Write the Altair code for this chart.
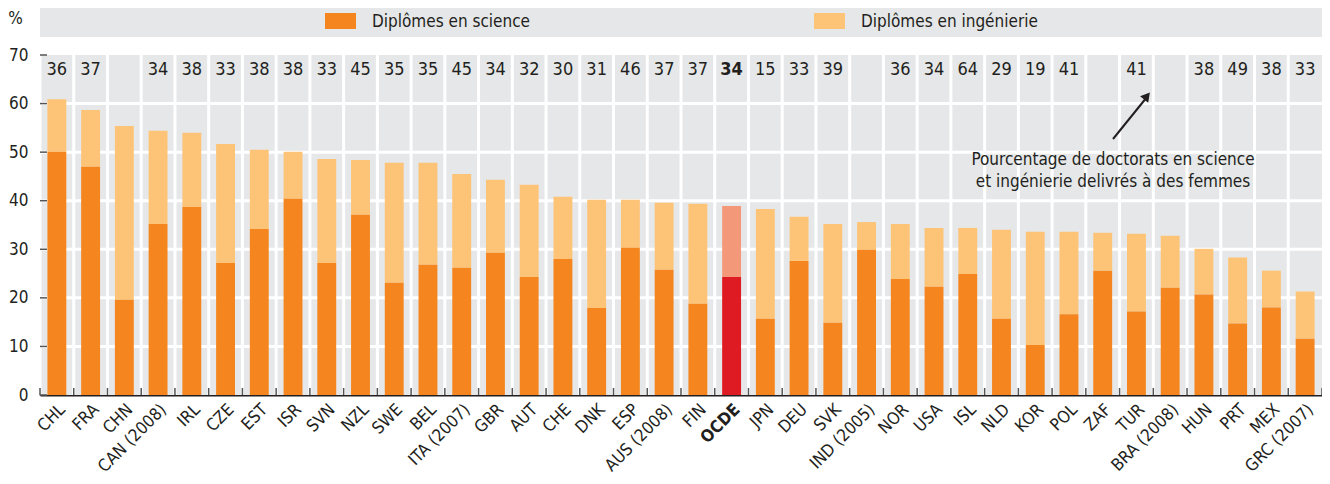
import altair as alt
import numpy as np
import pandas as pd

# ---------------- data ----------------
categories = ["CHL", "FRA", "CHN", "CAN (2008)", "IRL", "CZE", "EST", "ISR", "SVN", "NZL",
              "SWE", "BEL", "ITA (2007)", "GBR", "AUT", "CHE", "DNK", "ESP", "AUS (2008)", "FIN",
              "OCDE", "JPN", "DEU", "SVK", "IND (2005)", "NOR", "USA", "ISL", "NLD", "KOR",
              "POL", "ZAF", "TUR", "BRA (2008)", "HUN", "PRT", "MEX", "GRC (2007)"]

science = [50.1, 47.0, 19.6, 35.2, 38.7, 27.2, 34.2, 40.4, 27.2, 37.1,
           23.1, 26.8, 26.2, 29.3, 24.3, 28.0, 17.9, 30.3, 25.8, 18.8,
           24.3, 15.7, 27.6, 14.9, 29.9, 23.9, 22.3, 24.9, 15.7, 10.3,
           16.6, 25.6, 17.2, 22.1, 20.7, 14.7, 18.0, 11.6]

total = [60.9, 58.7, 55.4, 54.4, 54.0, 51.7, 50.5, 50.1, 48.6, 48.4,
         47.8, 47.8, 45.5, 44.3, 43.3, 40.8, 40.2, 40.2, 39.6, 39.4,
         38.9, 38.3, 36.7, 35.2, 35.6, 35.2, 34.4, 34.4, 34.0, 33.6,
         33.6, 33.4, 33.2, 32.8, 30.1, 28.3, 25.6, 21.3]

women_phd = [36, 37, None, 34, 38, 33, 38, 38, 33, 45,
             35, 35, 45, 34, 32, 30, 31, 46, 37, 37,
             34, 15, 33, 39, None, 36, 34, 64, 29, 19,
             41, None, 41, None, 38, 49, 38, 33]

legend_labels = ["Diplômes en science", "Diplômes en ingénierie"]
y_ticks = [0, 10, 20, 30, 40, 50, 60, 70]
y_grid = [10, 20, 30, 40, 50, 60]
annotation_lines = ["Pourcentage de doctorats en science", "et ingénierie delivrés à des femmes"]

# ---------------- styling ----------------
FONT = "Liberation Sans Narrow, Arial Narrow, DejaVu Sans Condensed, sans-serif"
TXT = "#231f20"
BG = "#e6e7e8"
C_SCI = "#f5861f"
C_ENG = "#fdc477"
C_SCI_O = "#de1b22"
C_ENG_O = "#f4987a"
W, H = 1282, 340
Y_MAX = 70
N = len(categories)
step = W / N

df = pd.DataFrame({"cat": categories, "science": science, "total": total})
df["women_txt"] = ["" if v is None else str(v) for v in women_phd]
oecd = df["cat"] == "OCDE"
df["sci_grp"] = np.where(oecd, "sci_o", "sci")
df["eng_grp"] = np.where(oecd, "eng_o", "eng")

cscale = alt.Scale(domain=["sci", "eng", "sci_o", "eng_o"],
                   range=[C_SCI, C_ENG, C_SCI_O, C_ENG_O])

x_enc = alt.X(
    "cat:N", sort=categories,
    scale=alt.Scale(paddingInner=0.44, paddingOuter=0.22),
    axis=alt.Axis(title=None, labelAngle=-45, labelFontSize=17, labelColor=TXT,
                  labelFont=FONT, labelPadding=6,
                  labelFontWeight=alt.expr("datum.value == 'OCDE' ? 'bold' : 'normal'"),
                  ticks=False, domainColor=TXT, domainWidth=2, grid=False),
)
y_scale = alt.Scale(domain=[0, Y_MAX], nice=False)
y_axis = alt.Axis(title="%", titleAngle=0, titleX=-25, titleY=-28, titleFontSize=17,
                  titleFontWeight="normal", titleFont=FONT, titleColor=TXT,
                  values=y_ticks, labelFontSize=17, labelFont=FONT, labelColor=TXT,
                  labelPadding=12, ticks=False, domainColor=TXT, domainWidth=2,
                  grid=False)

base = alt.Chart(df)
one = pd.DataFrame({"t": [0]})

# plot background
plot_bg = alt.Chart(one).mark_rect(color=BG).encode(
    x=alt.value(0), x2=alt.value(W), y=alt.value(0), y2=alt.value(H))

# white grid lines (drawn as marks, under the bars)
grid_v = base.mark_rule(stroke="#ffffff", strokeWidth=3, opacity=1,
                        xOffset=-step / 2).encode(
    x=x_enc, y=alt.value(0), y2=alt.value(H))
grid_h_layers = [
    alt.Chart(one).mark_rule(stroke="#ffffff", strokeWidth=3, opacity=1).encode(
        x=alt.value(0), x2=alt.value(W),
        y=alt.value(H - g * H / Y_MAX), y2=alt.value(H - g * H / Y_MAX))
    for g in y_grid
]

eng_bars = base.mark_bar().encode(
    x=x_enc,
    y=alt.Y("science:Q", scale=y_scale, axis=y_axis),
    y2="total:Q",
    color=alt.Color("eng_grp:N", scale=cscale, legend=None),
)
sci_bars = base.mark_bar().encode(
    x=x_enc,
    y=alt.Y("science:Q", scale=y_scale, axis=y_axis),
    color=alt.Color("sci_grp:N", scale=cscale, legend=None),
)

top_txt = base.transform_filter("datum.cat != 'OCDE'").mark_text(
    font=FONT, fontSize=18, color=TXT, baseline="middle"
).encode(x=x_enc, y=alt.value(15), text="women_txt:N")
top_txt_o = base.transform_filter("datum.cat == 'OCDE'").mark_text(
    font=FONT, fontSize=18, color=TXT, baseline="middle", fontWeight="bold"
).encode(x=x_enc, y=alt.value(15), text="women_txt:N")

bottom_ticks = base.mark_rule(stroke="#555555", strokeWidth=1.5, xOffset=-step / 2).encode(
    x=x_enc, y=alt.value(H), y2=alt.value(H - 7))
bottom_tick_end = base.transform_filter("datum.cat == 'GRC (2007)'").mark_rule(
    stroke="#555555", strokeWidth=1.5, xOffset=step / 2).encode(
    x=x_enc, y=alt.value(H), y2=alt.value(H - 7))

left_ticks = alt.Chart(pd.DataFrame({"v": y_ticks})).mark_rule(
    stroke="#555555", strokeWidth=1.5).encode(
    y=alt.Y("v:Q", scale=y_scale, axis=y_axis), x=alt.value(0), x2=alt.value(7))

# ---------------- legend (drawn above the plot) ----------------
leg_df = pd.DataFrame({"label": legend_labels})
leg_bg = alt.Chart(leg_df.head(1)).mark_rect(color=BG).encode(
    x=alt.value(0), x2=alt.value(W), y=alt.value(-49), y2=alt.value(-18))
leg_layers = [leg_bg]
for lab, col, sx in zip(legend_labels, [C_SCI, C_ENG], [285, 774]):
    d = alt.Chart(leg_df[leg_df["label"] == lab])
    leg_layers.append(d.mark_rect(color=col).encode(
        x=alt.value(sx), x2=alt.value(sx + 31), y=alt.value(-42), y2=alt.value(-26)))
    leg_layers.append(d.mark_text(font=FONT, fontSize=17, color=TXT, align="left",
                                  baseline="middle").encode(
        x=alt.value(sx + 47), y=alt.value(-33), text="label:N"))

# ---------------- annotation ----------------
ann_text = alt.Chart(one).mark_text(font=FONT, fontSize=17, color=TXT, align="center",
                                    baseline="middle", lineHeight=22).encode(
    x=alt.value(1073), y=alt.value(105), text=alt.value(annotation_lines))
ann_line = alt.Chart(one).mark_rule(color=TXT, strokeWidth=2).encode(
    x=alt.value(1073), x2=alt.value(1107), y=alt.value(84), y2=alt.value(42))
ann_head = alt.Chart(one).mark_point(shape="triangle-up", filled=True, color=TXT,
                                     opacity=1, size=110, angle=39).encode(
    x=alt.value(1107), y=alt.value(41))

chart = alt.layer(
    plot_bg, grid_v, *grid_h_layers, eng_bars, sci_bars, top_txt, top_txt_o, bottom_ticks,
    bottom_tick_end, left_ticks, *leg_layers, ann_line, ann_head, ann_text
).properties(
    width=W, height=H,
    autosize=alt.AutoSizeParams(type="none"),
    padding={"left": 32, "top": 47, "right": 0, "bottom": 89},
).configure_view(
    stroke=None
).configure(font=FONT)

chart.save("out.html", embed_options={"renderer": "svg", "actions": False})
